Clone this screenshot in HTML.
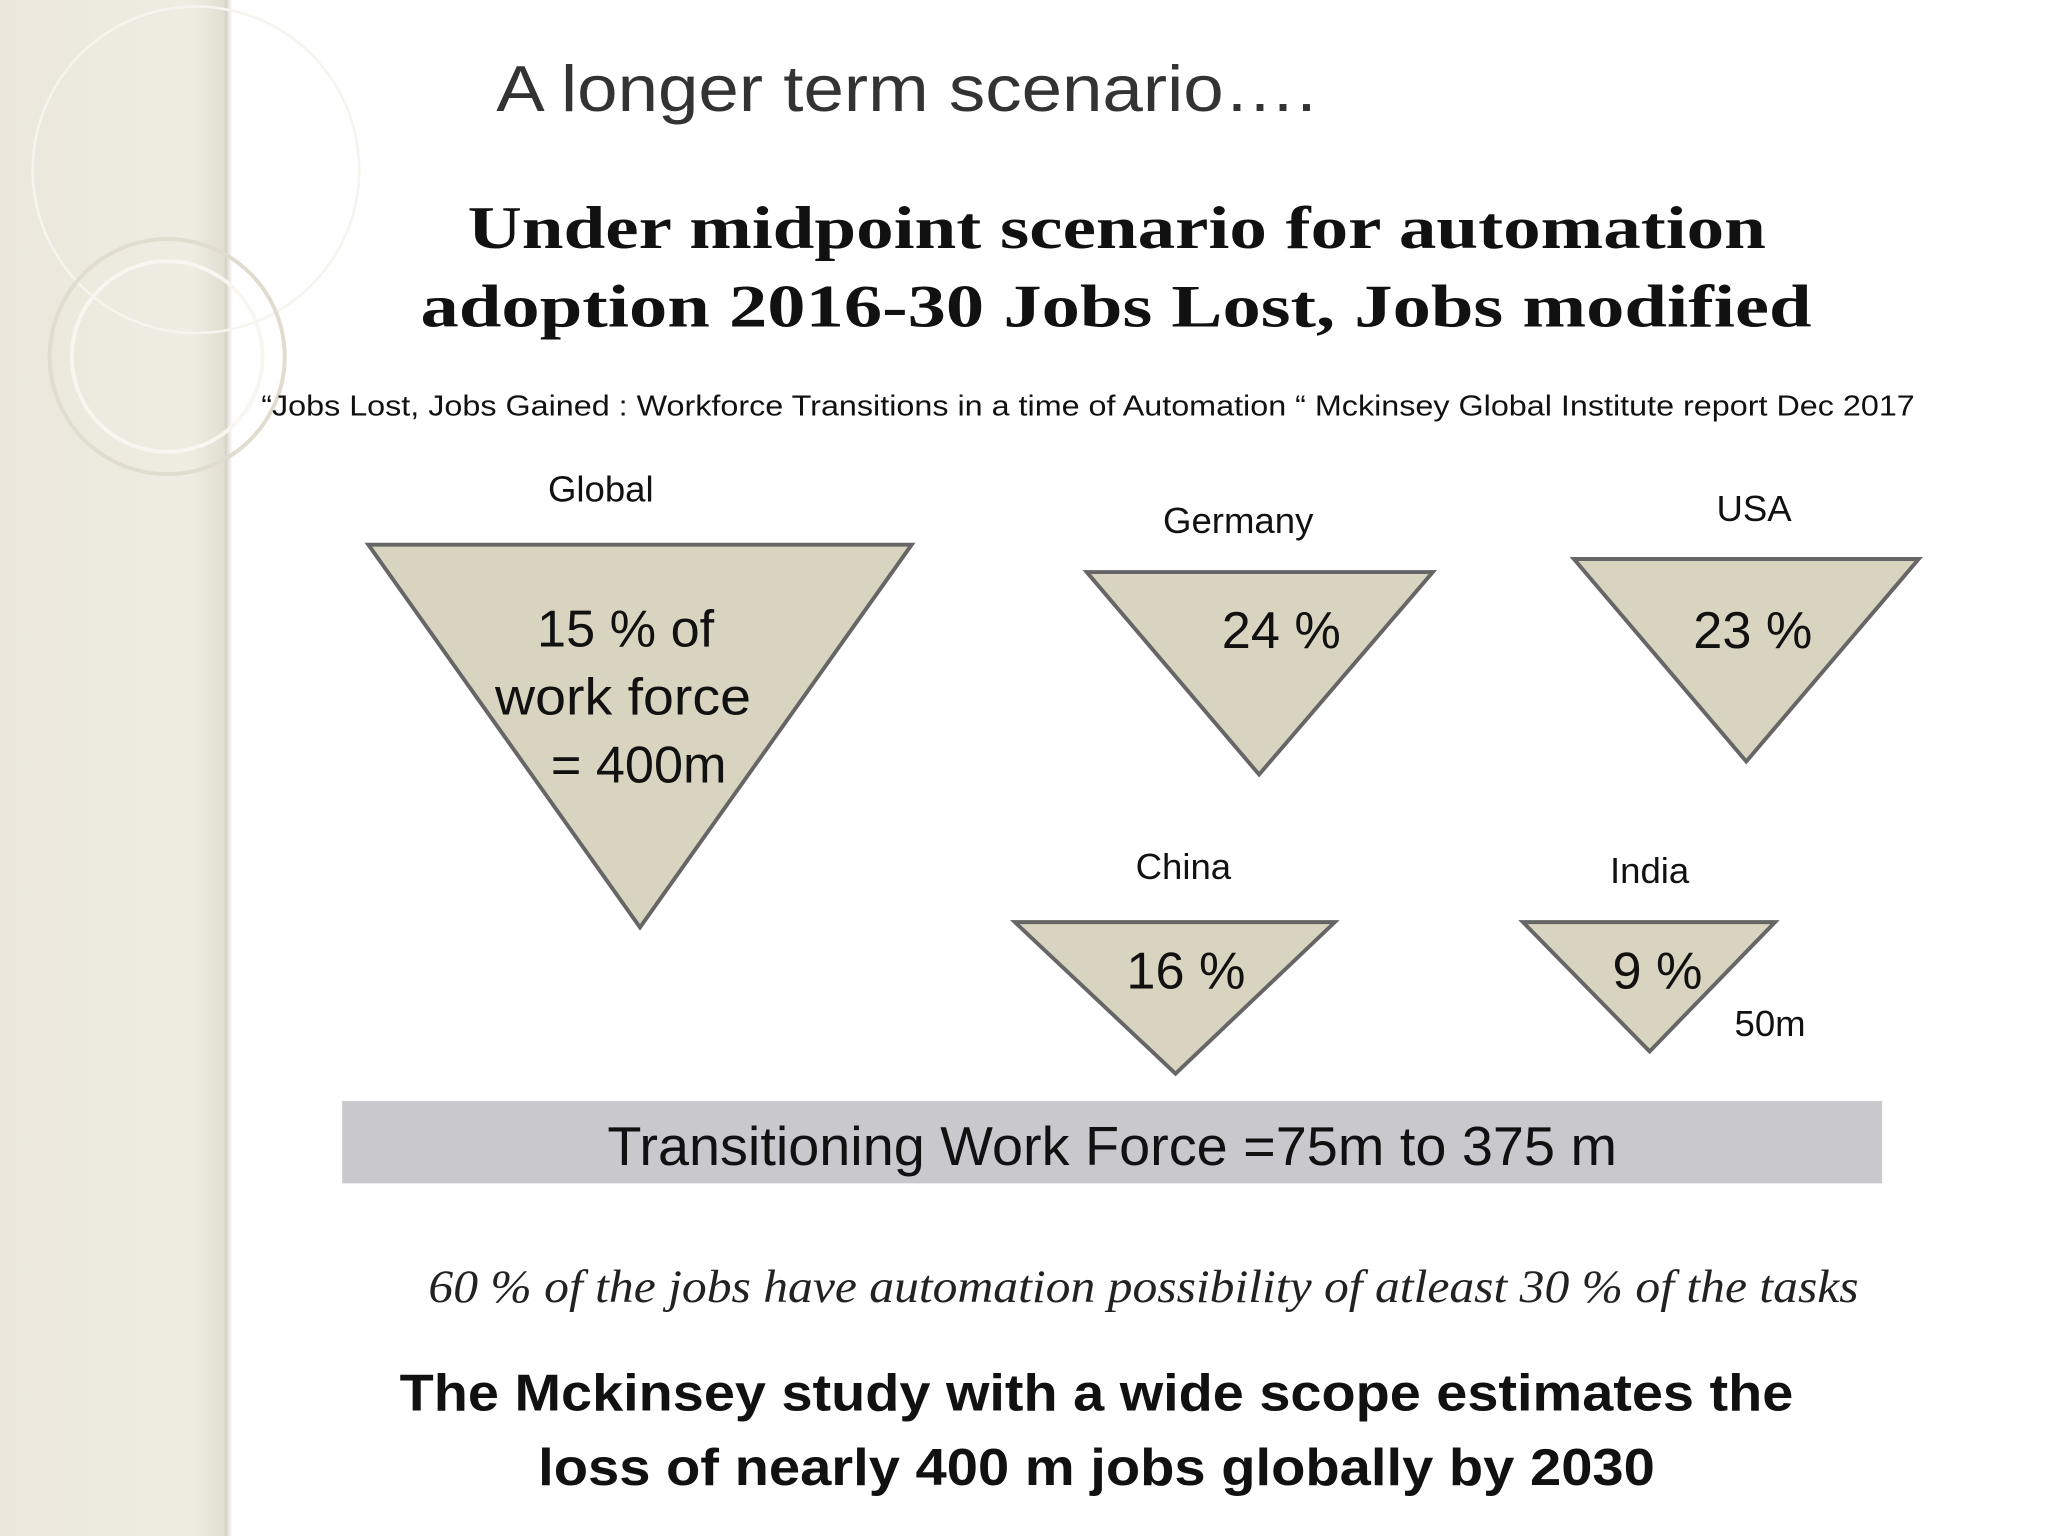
<!DOCTYPE html>
<html><head><meta charset="utf-8">
<style>
html,body{margin:0;padding:0;width:2048px;height:1536px;overflow:hidden;background:#fff}
#wrap{width:1568px;height:1176px;transform:scale(1.306122);transform-origin:0 0;position:relative}
svg text{font-family:"Liberation Sans",sans-serif}
</style></head><body>
<div id="wrap">
<svg width="1568" height="1176" viewBox="0 0 1568 1176" xmlns="http://www.w3.org/2000/svg">
<defs>
<linearGradient id="side" x1="0" x2="1" y1="0" y2="0">
<stop offset="0" stop-color="#ebe7dc"/><stop offset="0.85" stop-color="#efece3"/><stop offset="1" stop-color="#e2ded2"/>
</linearGradient>
<linearGradient id="edge" x1="0" x2="1"><stop offset="0" stop-color="#cfcbbf"/><stop offset="1" stop-color="#fff"/></linearGradient>
</defs>
<g>
<rect x="0" y="0" width="172" height="1176" fill="url(#side)"/>
<rect x="172" y="0" width="6" height="1176" fill="url(#edge)"/>
<circle cx="150" cy="130" r="125" fill="none" stroke="#f6f4ee" stroke-width="2"/>
<circle cx="128" cy="273" r="90" fill="none" stroke="#e0dccf" stroke-width="3"/>
<circle cx="128" cy="273" r="73" fill="none" stroke="#f8f6f0" stroke-width="3"/>
</g>
<text x="380" y="85" font-size="50" fill="#333" textLength="628" lengthAdjust="spacingAndGlyphs">A longer term scenario….</text>
<g font-weight="bold" font-size="46" fill="#111">
<text x="358" y="190" textLength="994" lengthAdjust="spacingAndGlyphs" style="font-family:'Liberation Serif',serif">Under midpoint scenario for automation</text>
<text x="322" y="250" textLength="1065" lengthAdjust="spacingAndGlyphs" style="font-family:'Liberation Serif',serif">adoption 2016-30  Jobs Lost, Jobs modified</text>
</g>
<text x="200" y="318" font-size="22" fill="#111" textLength="1266" lengthAdjust="spacingAndGlyphs">“Jobs Lost, Jobs Gained :  Workforce Transitions in a time of Automation “ Mckinsey Global Institute report  Dec 2017</text>
<g fill="#d8d4bf" stroke="#666" stroke-width="3">
<polygon points="282,417 698,417 490,710"/>
<polygon points="832,438 1097,438 964,593"/>
<polygon points="1205,428 1469,428 1337,583"/>
<polygon points="777,706 1022,706 900,822"/>
<polygon points="1166,706 1359,706 1263,805"/>
</g>
<g font-size="28" fill="#111" text-anchor="middle">
<text x="460" y="384">Global</text>
<text x="948" y="408">Germany</text>
<text x="1343" y="399">USA</text>
<text x="906" y="673">China</text>
<text x="1263" y="676">India</text>
</g>
<g font-size="40" fill="#111" text-anchor="middle">
<text x="479" y="495">15 % of</text>
<text x="477" y="547" textLength="196" lengthAdjust="spacingAndGlyphs">work force</text>
<text x="489" y="599">= 400m</text>
<text x="981" y="496">24 %</text>
<text x="1342" y="496">23 %</text>
<text x="908" y="757">16 %</text>
<text x="1269" y="757">9 %</text>
</g>
<text x="1328" y="793" font-size="28" fill="#111">50m</text>
<rect x="262" y="843" width="1179" height="63" fill="#c9c8cc"/>
<text x="465" y="892" font-size="42" fill="#111" textLength="773" lengthAdjust="spacingAndGlyphs">Transitioning Work Force =75m to 375 m</text>
<text x="328" y="997" font-size="36" fill="#222" font-style="italic" textLength="1095" lengthAdjust="spacingAndGlyphs" style="font-family:'Liberation Serif',serif">60 % of the jobs have automation possibility of  atleast 30 % of  the tasks</text>
<g font-size="40" font-weight="bold" fill="#111">
<text x="306" y="1080" textLength="1067" lengthAdjust="spacingAndGlyphs">The Mckinsey study with a wide scope estimates the</text>
<text x="412" y="1137" textLength="855" lengthAdjust="spacingAndGlyphs">loss of nearly 400 m jobs globally by 2030</text>
</g>
</svg>
</div>
</body></html>
